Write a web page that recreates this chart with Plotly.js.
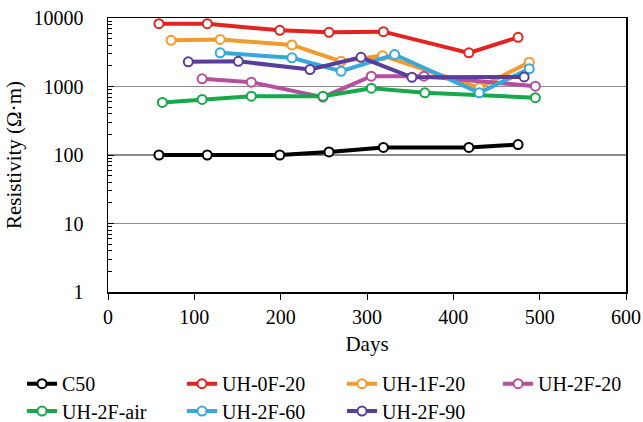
<!DOCTYPE html>
<html>
<head>
<meta charset="utf-8">
<script src="https://cdn.plot.ly/plotly-3.0.1.min.js"></script>
<style>html,body{margin:0;padding:0;background:#fff;}#chart{width:643px;height:422px;}</style>
</head>
<body>
<div id="chart"></div>
<script>
// Series names
var seriesNames = ["C50", "UH-0F-20", "UH-1F-20", "UH-2F-20", "UH-2F-air", "UH-2F-60", "UH-2F-90"];

// Days (x) and resistivity (y, Ω·m) per series
var c50Days = [59, 115, 199, 256, 319, 418, 475];
var c50Res  = [100, 100, 100, 111, 129, 129, 142];

var uh0f20Days = [59, 115, 199, 256, 319, 418, 475];
var uh0f20Res  = [8260, 8260, 6600, 6170, 6320, 3100, 5220];

var uh1f20Days = [73, 130, 213, 270, 318, 430, 488];
var uh1f20Res  = [4720, 4870, 4050, 2330, 2820, 957, 2260];

var uh2f20Days = [109, 166, 249, 305, 366, 495];
var uh2f20Res  = [1295, 1155, 700, 1413, 1413, 1010];

var uh2fairDays = [63, 109, 166, 249, 305, 367, 495];
var uh2fairRes  = [585, 648, 723, 723, 944, 809, 686];

var uh2f60Days = [130, 213, 270, 332, 430, 488];
var uh2f60Res  = [3100, 2620, 1670, 2930, 809, 1810];

var uh2f90Days = [93, 151, 234, 293, 352, 482];
var uh2f90Res  = [2290, 2330, 1770, 2670, 1365, 1380];

var xTickVals = [0, 100, 200, 300, 400, 500, 600];
var yTickVals = [1, 10, 100, 1000, 10000];
var yTickText = ["1", "10", "100", "1000", "10000"];

var colors = ["#000000", "#e2231f", "#f39a2f", "#b4509e", "#16a84a", "#35a9dd", "#5a3d98"];
var legendGroupOf = ["legend", "legend", "legend", "legend3", "legend2", "legend2", "legend2"];
var xs = [c50Days, uh0f20Days, uh1f20Days, uh2f20Days, uh2fairDays, uh2f60Days, uh2f90Days];
var ys = [c50Res, uh0f20Res, uh1f20Res, uh2f20Res, uh2fairRes, uh2f60Res, uh2f90Res];

var traces = seriesNames.map(function(n, i) {
  return {
    x: xs[i], y: ys[i], name: n, type: "scatter", mode: "lines+markers",
    legend: legendGroupOf[i],
    line: {color: colors[i], width: 4},
    marker: {symbol: "circle", size: 9, color: "#ffffff", line: {color: colors[i], width: 2}}
  };
});

var serif = "Liberation Serif, Times New Roman, serif";
function legendAt(xLeft, yTop) {
  return {
    orientation: "h", xref: "container", yref: "container",
    x: xLeft, xanchor: "left", y: yTop, yanchor: "top",
    entrywidth: 115, entrywidthmode: "pixels",
    font: {family: serif, size: 20, color: "#000"},
    itemwidth: 30, bgcolor: "rgba(0,0,0,0)"
  };
}
var layout = {
  width: 643, height: 422,
  margin: {l: 108, r: 17, t: 18, b: 130, autoexpand: false},
  paper_bgcolor: "#fff", plot_bgcolor: "#fff",
  font: {family: serif, size: 20, color: "#000"},
  showlegend: true,
  legend: legendAt(0.0342, 0.137),
  legend3: legendAt(0.7745, 0.137),
  legend2: legendAt(0.0342, 0.072),
  xaxis: {
    range: [0, 600], tickvals: xTickVals, ticks: "outside", ticklen: 6, tickcolor: "#000",
    showline: true, linecolor: "#000", linewidth: 1.5, mirror: true, showgrid: false, zeroline: false,
    tickfont: {family: serif, size: 20},
    title: {text: "Days", font: {family: serif, size: 21}, standoff: 10}
  },
  yaxis: {
    type: "log", range: [0, 4], tickvals: yTickVals, ticktext: yTickText,
    ticks: "inside", ticklen: 6, tickcolor: "#000",
    ticklabelstandoff: 19,
    minor: {ticks: "inside", ticklen: 4, tickcolor: "#000", dtick: "D1", showgrid: false},
    showline: true, linecolor: "#000", linewidth: 1.5, mirror: true,
    showgrid: true, gridcolor: "#8c8c8c", gridwidth: 1.5, zeroline: false,
    tickfont: {family: serif, size: 20},
    title: {text: "Resistivity (Ω·m)\u00a0\u00a0\u00a0\u00a0", font: {family: serif, size: 21}, standoff: 6}
  }
};

Plotly.newPlot("chart", traces, layout, {displayModeBar: false, staticPlot: true});
</script>
</body>
</html>
